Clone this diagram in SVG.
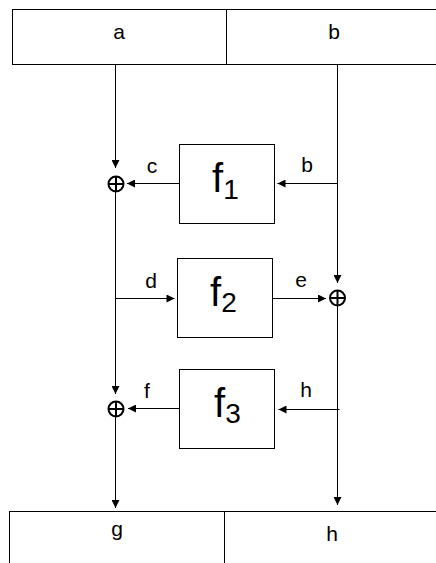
<svg xmlns="http://www.w3.org/2000/svg" width="436" height="563" viewBox="0 0 436 563">
  <style>
    .box { fill: #ffffff; stroke: #000000; stroke-width: 1; }
    .wire { fill: none; stroke: #000000; stroke-width: 1; }
    .xor { fill: none; stroke: #000000; stroke-width: 2; }
    .lbl { font-family: "Liberation Sans", Arial, sans-serif; font-size: 21px; fill: #000000; text-anchor: middle; }
    .fn { font-family: "Liberation Sans", Arial, sans-serif; font-size: 40px; fill: #000000; }
    .sub { font-size: 28px; }
  </style>
  <defs>
    <marker id="arrow" viewBox="0 0 10 10" refX="10" refY="5" markerWidth="9" markerHeight="8" markerUnits="userSpaceOnUse" orient="auto">
      <path d="M0,0 L10,5 L0,10 z" fill="#000000"/>
    </marker>
  </defs>

  <rect width="436" height="563" fill="#ffffff"/>

  <!-- input register -->
  <g id="input">
    <rect class="box" x="12.5" y="9.5" width="440" height="55"/>
    <line class="wire" x1="226.5" y1="9.5" x2="226.5" y2="64.5"/>
    <text class="lbl" x="119" y="39">a</text>
    <text class="lbl" x="334" y="39">b</text>
  </g>

  <!-- output register -->
  <g id="output">
    <rect class="box" x="9.5" y="511.5" width="440" height="70"/>
    <line class="wire" x1="224.5" y1="511.5" x2="224.5" y2="563"/>
    <text class="lbl" x="117" y="536">g</text>
    <text class="lbl" x="332" y="541">h</text>
  </g>

  <!-- round functions -->
  <g id="f1">
    <rect class="box" x="179.5" y="144.5" width="95" height="79"/>
    <text class="fn" x="212" y="192">f<tspan class="sub" dy="7">1</tspan></text>
  </g>
  <g id="f2">
    <rect class="box" x="177.5" y="258.5" width="95" height="79"/>
    <text class="fn" x="210" y="306">f<tspan class="sub" dy="6">2</tspan></text>
  </g>
  <g id="f3">
    <rect class="box" x="179.5" y="369.5" width="95" height="79"/>
    <text class="fn" x="214" y="417">f<tspan class="sub" dy="6">3</tspan></text>
  </g>

  <!-- XOR junctions -->
  <g id="xor1">
    <circle class="xor" cx="116" cy="184" r="7.5"/>
    <path class="xor" d="M108.5,184 H123.5 M116,176.5 V191.5"/>
  </g>
  <g id="xor2">
    <circle class="xor" cx="337.5" cy="298" r="7.5"/>
    <path class="xor" d="M330,298 H345 M337.5,290.5 V305.5"/>
  </g>
  <g id="xor3">
    <circle class="xor" cx="116" cy="409" r="7.5"/>
    <path class="xor" d="M108.5,409 H123.5 M116,401.5 V416.5"/>
  </g>

  <!-- connectors -->
  <g id="connectors">
    <!-- left branch -->
    <line class="wire" x1="115.5" y1="64.5" x2="115.5" y2="168" marker-end="url(#arrow)"/>
    <line class="wire" x1="115.5" y1="191" x2="115.5" y2="394" marker-end="url(#arrow)"/>
    <line class="wire" x1="115.5" y1="416" x2="115.5" y2="508" marker-end="url(#arrow)"/>
    <!-- right branch -->
    <line class="wire" x1="337.5" y1="64.5" x2="337.5" y2="283" marker-end="url(#arrow)"/>
    <line class="wire" x1="337.5" y1="305" x2="337.5" y2="505" marker-end="url(#arrow)"/>
    <!-- f1 -->
    <line class="wire" x1="337.5" y1="183.5" x2="277.5" y2="183.5" marker-end="url(#arrow)"/>
    <line class="wire" x1="179.5" y1="183.5" x2="127" y2="183.5" marker-end="url(#arrow)"/>
    <!-- f2 -->
    <line class="wire" x1="115.5" y1="298.5" x2="174.5" y2="298.5" marker-end="url(#arrow)"/>
    <line class="wire" x1="272.5" y1="298.5" x2="326" y2="298.5" marker-end="url(#arrow)"/>
    <!-- f3 -->
    <line class="wire" x1="339.5" y1="409.5" x2="278.5" y2="409.5" marker-end="url(#arrow)"/>
    <line class="wire" x1="179.5" y1="408.5" x2="128" y2="408.5" marker-end="url(#arrow)"/>
    <!-- wire labels -->
    <text class="lbl" x="152" y="173">c</text>
    <text class="lbl" x="307" y="172">b</text>
    <text class="lbl" x="151" y="288">d</text>
    <text class="lbl" x="301" y="287">e</text>
    <text class="lbl" x="147" y="398">f</text>
    <text class="lbl" x="306" y="397">h</text>
  </g>
</svg>
